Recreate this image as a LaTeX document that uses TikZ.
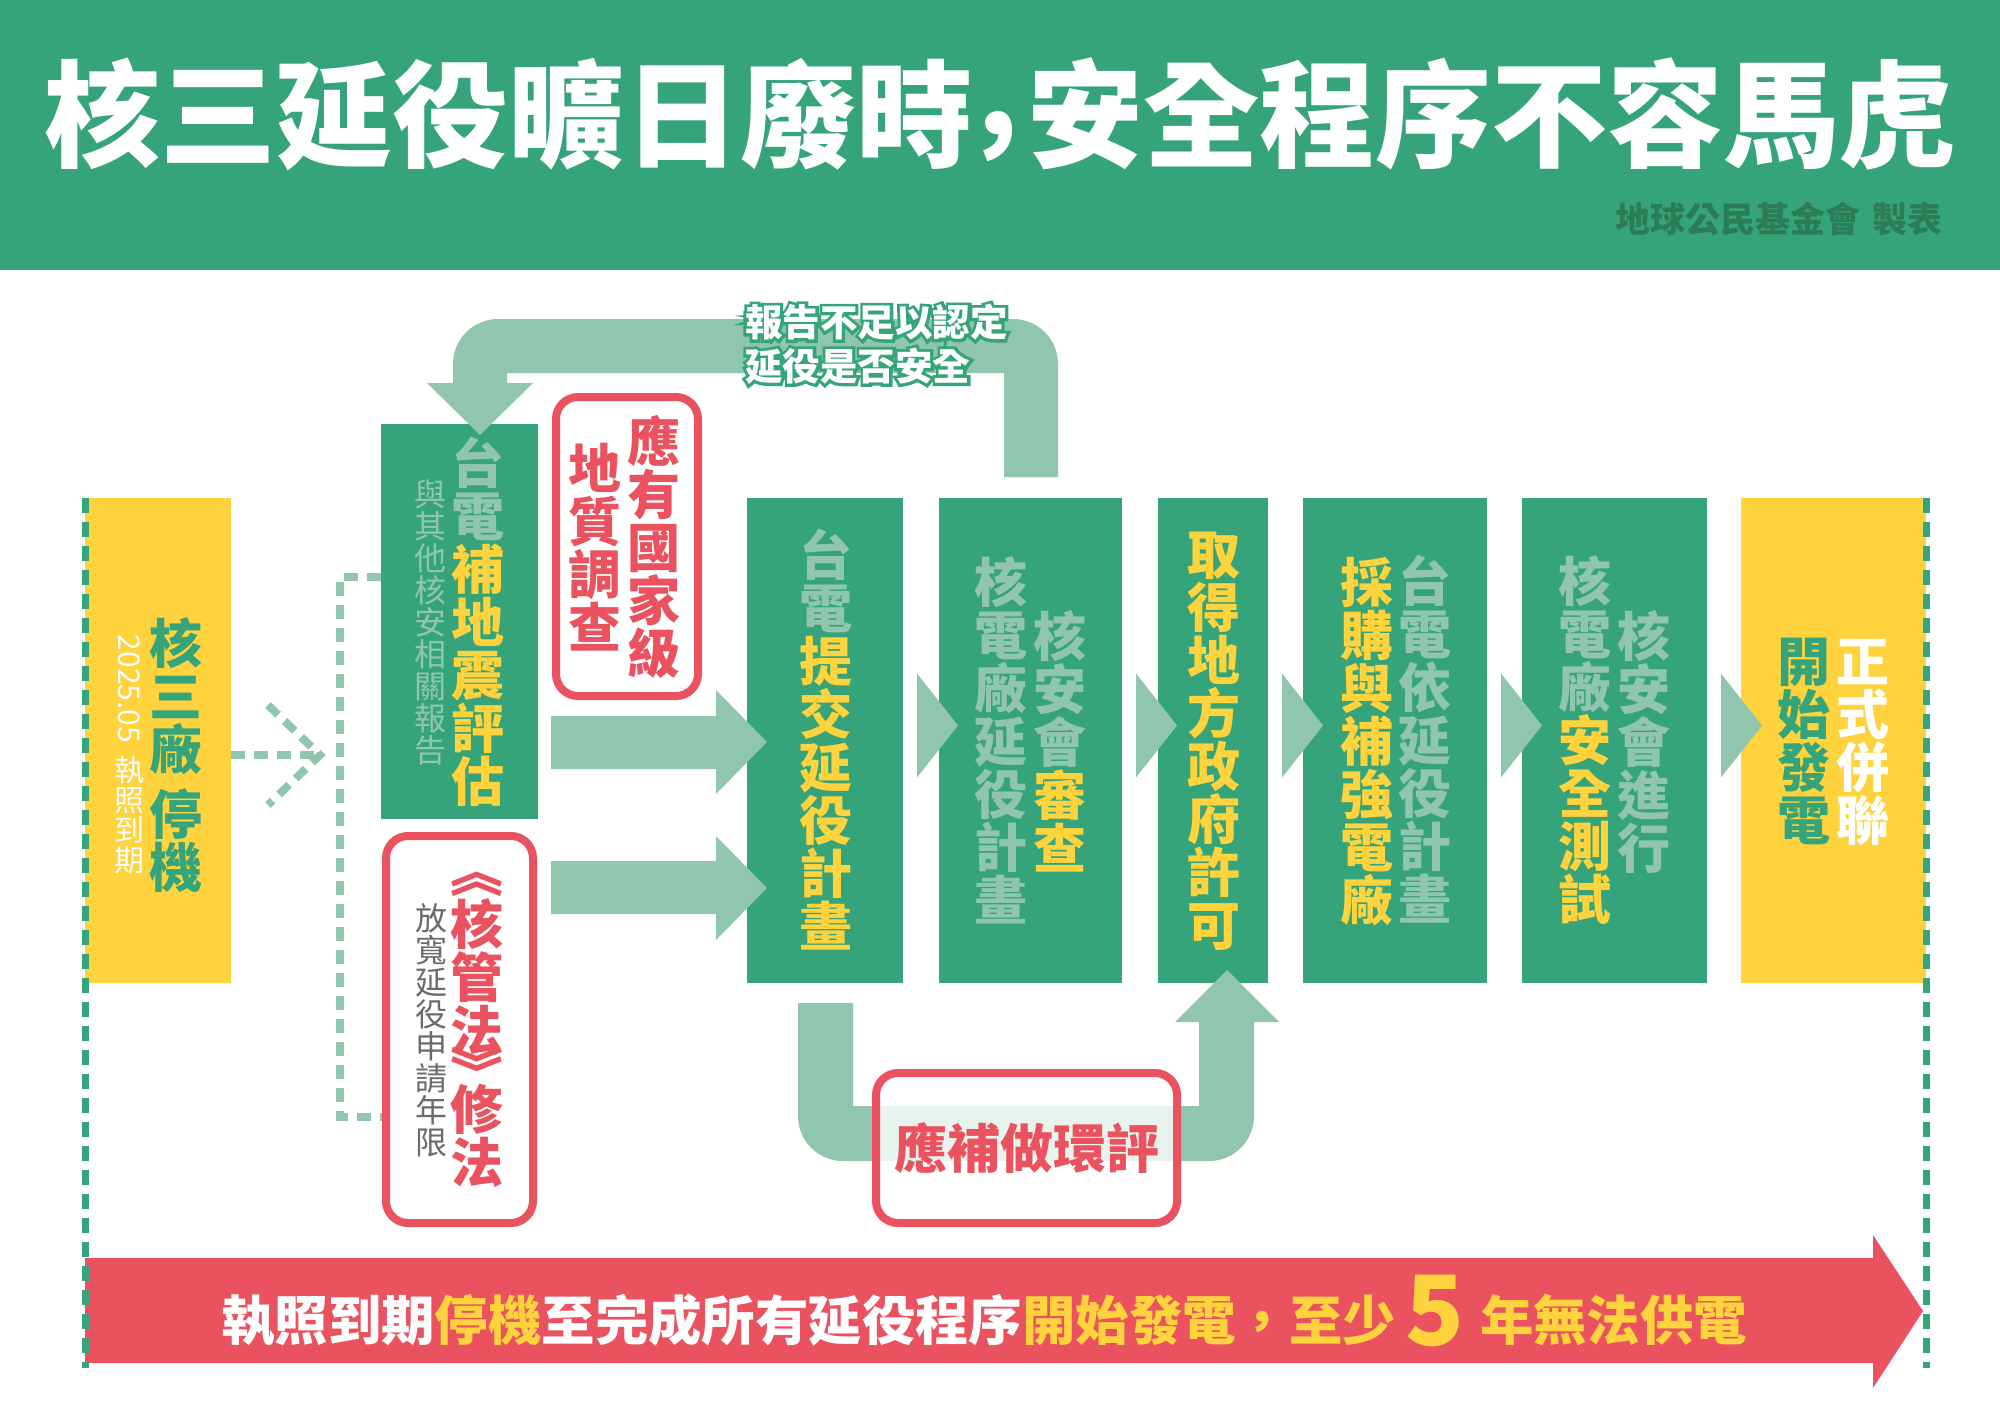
\documentclass[tikz,border=0pt]{standalone}
\usepackage{fontspec}
\usepackage{graphicx}
\newfontfamily\cjk{Noto Sans CJK TC}
\newfontfamily\cjkol{Noto Sans CJK TC}[FakeBold=16,BoldFeatures={FakeBold=16}]
\usetikzlibrary{calc}
\definecolor{G}{HTML}{36A47A}
\definecolor{LG}{HTML}{90C6AD}
\definecolor{Y}{HTML}{FED33D}
\definecolor{R}{HTML}{E9525E}
\definecolor{DG}{HTML}{2B7D58}
\definecolor{GR}{HTML}{6B6B6B}
\makeatletter
\newcommand\vcol[2]{\def\vcol@c{#1}\vcol@#2\@nil}
\def\vcol@#1{\ifx#1\@nil\else\vcol@box{#1}\expandafter\vcol@\fi}
\def\vcol@box#1{\hbox to 1em{\hss\textcolor{\vcol@c}{\vrule height .88em depth .12em width 0pt\relax #1}\hss}}
\newcommand\vbrk[1]{\vbox to .5em{\vss\hbox to 1em{\hss\textcolor{R}{#1}\hss}\vss}}
\makeatother
\begin{document}
\begin{tikzpicture}[x=1pt,y=-1pt,
 gbox/.style={fill=G, inner sep=0pt, outer sep=0pt},
 ybox/.style={fill=Y, inner sep=0pt, outer sep=0pt},
 rbox/.style={draw=R, line width=8pt, fill=white, rounded corners=22pt, inner sep=0pt},
 big/.style={inner sep=0pt, font=\cjk\bfseries\fontsize{53}{53}\selectfont},
 small/.style={inner sep=0pt, font=\cjk\fontsize{32}{32}\selectfont},
 lblhalo/.style={anchor=west, inner sep=0pt, text=G, font=\cjkol\bfseries\fontsize{37.5}{37.5}\selectfont},
 lbl/.style={anchor=west, inner sep=0pt, text=white, font=\cjk\bfseries\fontsize{37.5}{37.5}\selectfont},
 arr/.style={fill=LG},
 ldash/.style={draw=LG, line width=8pt, dash pattern=on 14pt off 9pt},
 border/.style={draw=G, line width=7pt, dash pattern=on 15pt off 9pt}]
\useasboundingbox (0,0) rectangle (2000,1414);
\fill[white] (0,0) rectangle (2000,1414);
% header
\node[fill=G, minimum width=2000pt, minimum height=270pt, anchor=north west, inner sep=0pt] (header) at (0,0) {};
\node[font=\cjk\bfseries\fontsize{116}{116}\selectfont, text=white, inner sep=0pt] (title) at (1000,114)
 {核三延役曠日廢時\kern.05em\raisebox{.2em}{,}\kern.08em安全程序不容馬虎};
\node[anchor=east, font=\cjk\bfseries\fontsize{35}{35}\selectfont, text=DG, inner sep=0pt] (credit) at (1943,219)
 {地球公民基金會\hspace{.35em}製表};
% boxes
\node[ybox, minimum width=146pt, minimum height=485pt] (stop) at (158,740.5) {};
\node[gbox, minimum width=157pt, minimum height=395pt] (quake) at (459.5,621.5) {};
\node[rbox, minimum width=147pt, minimum height=387pt] (law) at (459.5,1029.5) {};
\node[rbox, minimum width=142pt, minimum height=299pt] (geo) at (627,546.5) {};
\node[gbox, minimum width=156pt, minimum height=485pt] (submit) at (825,740.5) {};
\node[gbox, minimum width=183pt, minimum height=485pt] (review) at (1030.5,740.5) {};
\node[gbox, minimum width=110pt, minimum height=485pt] (local) at (1213,740.5) {};
\node[gbox, minimum width=184pt, minimum height=485pt] (procure) at (1395,740.5) {};
\node[gbox, minimum width=185pt, minimum height=485pt] (test) at (1614.5,740.5) {};
\node[ybox, minimum width=185pt, minimum height=485pt] (start) at (1833.5,740.5) {};
% feedback loop arrow (review -> quake)
\fill[arr] (1004,477) -- (1004,373) -- (507,373) -- (507,383) -- (533,383) -- (480,435) -- (427,383) -- (453,383)
 -- (453,364) arc[start angle=180,end angle=270,radius=45] -- (1013,319) arc[start angle=270,end angle=360,radius=45]
 -- (1058,477) -- cycle;
% U arrow (submit -> local)
\fill[arr] (853,1003) -- (853,1106) -- (1199,1106) -- (1199,1022) -- (1175,1022) -- (1227,970) -- (1279,1022) -- (1254,1022)
 -- (1254,1116) arc[start angle=0,end angle=90,radius=45] -- (843,1161) arc[start angle=90,end angle=180,radius=45]
 -- (798,1003) -- cycle;
\node[rbox, fill opacity=0.8, minimum width=301pt, minimum height=150pt] (eia) at (1026.5,1148) {};
% horizontal arrows into submit
\fill[arr] (551,716) -- (716,716) -- (716,690) -- (767,742) -- (716,794) -- (716,769) -- (551,769) -- cycle;
\fill[arr] (551,861) -- (716,861) -- (716,836) -- (767,888) -- (716,940) -- (716,914) -- (551,914) -- cycle;
% step triangles
\foreach \n in {submit,review,local,procure,test}
 \fill[arr] ($(\n.east)+(14,-67)$) -- ++(41,52) -- ++(-41,52) -- cycle;
% dashed connectors
\coordinate (chev) at (320,755);
\draw[ldash] (stop.east |- chev) -- (chev);
\draw[ldash] ($(chev)+(-52,-50)$) -- (chev) -- ($(chev)+(-52,50)$);
\coordinate (bt) at (340,577);
\coordinate (bb) at (340,1117);
\draw[ldash] (quake.west |- bt) -- (bt) -- (bb) -- (law.west |- bb);
% bottom red arrow
\fill[R] (85,1258) -- (1873,1258) -- (1873,1235) -- (1923,1311) -- (1873,1388) -- (1873,1363) -- (85,1363) -- cycle;
\draw[border] (stop.north west) -- ++(0,870);
\draw[border] (start.north east) -- ++(0,870);
% texts
\node[big] (t-stop) at (176,755.5) {\vbox{\offinterlineskip\vcol{G}{核三廠}\kern12pt\vcol{G}{停機}}};
\node[inner sep=0pt, font=\cjk\fontsize{30}{30}\selectfont, text=white] (t-date) at (129,755)
 {\vbox{\offinterlineskip\hbox to 1em{\hss\rotatebox{-90}{2025.05}\hss}\kern.4em\vcol{white}{執照到期}}};
\node[big] (t-quake) at (478,622) {\vbox{\offinterlineskip\vcol{LG}{台電}\vcol{Y}{補地震評估}}};
\node[small] (t-quake2) at (430,622.5) {\vbox{\offinterlineskip\vcol{LG}{與其他核安相關報告}}};
\node[big] (t-law) at (477,1030) {\vbox{\offinterlineskip\vbrk{︽}\vcol{R}{核管法}\vbrk{︾}\vcol{R}{修法}}};
\node[small] (t-law2) at (431,1030) {\vbox{\offinterlineskip\vcol{GR}{放寬延役申請年限}}};
\node[big] (t-geo1) at (654,547.5) {\vbox{\offinterlineskip\vcol{R}{應有國家級}}};
\node[big] (t-geo2) at (595,548) {\vbox{\offinterlineskip\vcol{R}{地質調查}}};
\node[big] (t-submit) at (826,741) {\vbox{\offinterlineskip\vcol{LG}{台電}\vcol{Y}{提交延役計畫}}};
\node[big] (t-review1) at (1060,742) {\vbox{\offinterlineskip\vcol{LG}{核安會}\vcol{Y}{審查}}};
\node[big] (t-review2) at (1001,741) {\vbox{\offinterlineskip\vcol{LG}{核電廠延役計畫}}};
\node[big] (t-local) at (1214,740) {\vbox{\offinterlineskip\vcol{Y}{取得地方政府許可}}};
\node[big] (t-procure1) at (1425,740) {\vbox{\offinterlineskip\vcol{LG}{台電依延役計畫}}};
\node[big] (t-procure2) at (1367,741) {\vbox{\offinterlineskip\vcol{Y}{採購與補強電廠}}};
\node[big] (t-test1) at (1643.5,742.5) {\vbox{\offinterlineskip\vcol{LG}{核安會進行}}};
\node[big] (t-test2) at (1585,740.5) {\vbox{\offinterlineskip\vcol{LG}{核電廠}\vcol{Y}{安全測試}}};
\node[big] (t-start1) at (1863,741) {\vbox{\offinterlineskip\vcol{white}{正式併聯}}};
\node[big] (t-start2) at (1804,741) {\vbox{\offinterlineskip\vcol{G}{開始發電}}};
\node[big, text=R] (t-eia) at (1027,1148) {應補做環評};
\node[lblhalo] (lbl1h) at (745,322) {報告不足以認定};
\node[lbl] (lbl1) at (745,322) {報告不足以認定};
\node[lblhalo] (lbl2h) at (745,366) {延役是否安全};
\node[lbl] (lbl2) at (745,366) {延役是否安全};
\node[anchor=base west, inner sep=0pt, font=\cjk\bfseries\fontsize{53.4}{53.4}\selectfont] (t-bar) at (221,1340)
 {{\color{white}執照到期}{\color{Y}停機}{\color{white}至完成所有延役程序}{\color{Y}開始發電，至少\hspace{9pt}\raisebox{-5pt}{\fontsize{97}{97}\selectfont 5}\hspace{16pt}年無法供電}};
\end{tikzpicture}
\end{document}
